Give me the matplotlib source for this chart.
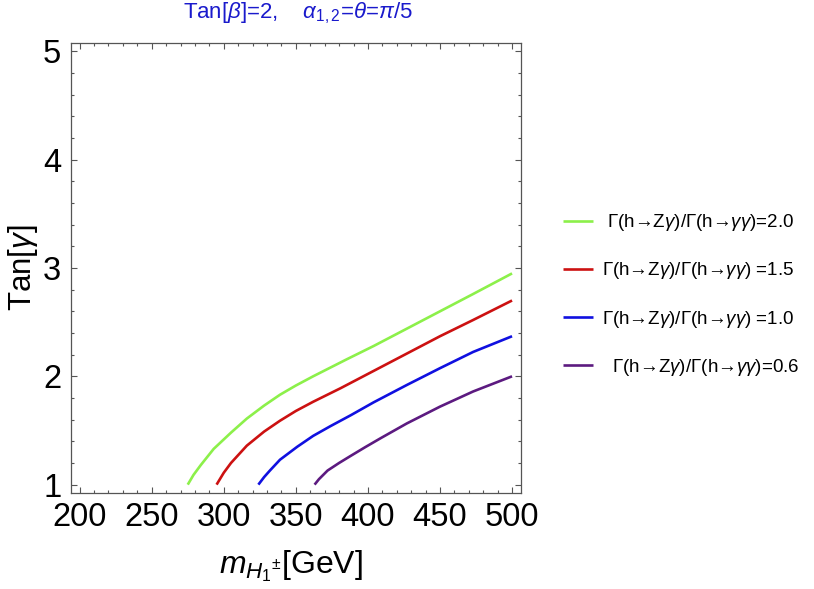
import matplotlib
matplotlib.use("Agg")
import matplotlib.pyplot as plt
from matplotlib.ticker import MultipleLocator

plt.rcParams['font.family'] = ['Liberation Sans', 'DejaVu Sans']
plt.rcParams['mathtext.fontset'] = 'custom'
plt.rcParams['mathtext.rm'] = 'Liberation Sans'
plt.rcParams['mathtext.it'] = 'Liberation Sans:italic'
plt.rcParams['mathtext.bf'] = 'Liberation Sans:bold'
plt.rcParams['mathtext.fallback'] = 'stixsans'

# ---- data ----
green_x = [275, 279, 284, 293, 305, 316, 328, 339, 350, 362, 385, 404, 427, 450, 473, 500]
green_y = [1.0, 1.09, 1.18, 1.33, 1.48, 1.61, 1.73, 1.83, 1.915, 2.00, 2.155, 2.28, 2.44, 2.60, 2.76, 2.95]
red_x = [295, 300, 305, 316, 328, 339, 350, 362, 381, 404, 427, 450, 473, 500]
red_y = [1.0, 1.11, 1.20, 1.36, 1.49, 1.59, 1.68, 1.765, 1.89, 2.05, 2.21, 2.37, 2.52, 2.70]
blue_x = [324, 328, 332, 339, 351, 362, 374, 388, 404, 427, 450, 473, 500]
blue_y = [1.0, 1.07, 1.13, 1.23, 1.35, 1.45, 1.54, 1.64, 1.76, 1.92, 2.075, 2.225, 2.37]
purple_x = [363, 366, 372, 380, 388, 398, 409, 419, 427, 450, 473, 500]
purple_y = [1.0, 1.05, 1.13, 1.20, 1.265, 1.345, 1.43, 1.505, 1.565, 1.72, 1.86, 2.00]

labels = [
    r" Γ(h→Z$\gamma$)/Γ(h→$\gamma\gamma$)=2.0",
    r"Γ(h→Z$\gamma$)/Γ(h→$\gamma\gamma$) =1.5",
    r"Γ(h→Z$\gamma$)/Γ(h→$\gamma\gamma$) =1.0",
    r"  Γ(h→Z$\gamma$)/Γ(h→$\gamma\gamma$)=0.6",
]
colors = ['#8cf04a', '#cc1111', '#1010e0', '#5c1a80']
x_ticks = [200, 250, 300, 350, 400, 450, 500]
y_ticks = [1, 2, 3, 4, 5]

title = r"Tan[$\beta$]=2,    $\alpha_{1,2}$=$\theta$=$\pi$/5"

fig = plt.figure(figsize=(8.14, 5.89), dpi=100)
ax = fig.add_axes([71/814, 1-493.3/589, 449.7/814, 450.6/589])

series = [(green_x, green_y), (red_x, red_y), (blue_x, blue_y), (purple_x, purple_y)]
handles = []
for (xs, ys), c, lab in zip(series, colors, labels):
    h, = ax.plot(xs, ys, color=c, lw=1.9, label=lab, solid_capstyle='butt',
                 solid_joinstyle='round')
    handles.append(h)

ax.set_xlim(194, 506)
ax.set_ylim(0.92, 5.08)
ax.set_xticks(x_ticks)
ax.set_yticks(y_ticks)
ax.xaxis.set_minor_locator(MultipleLocator(10))
ax.yaxis.set_minor_locator(MultipleLocator(0.2))
ax.tick_params(which='both', direction='in', top=True, right=True, color='#555555', width=0.8)
ax.tick_params(which='major', length=4.5, labelsize=23.5)
ax.tick_params(which='minor', length=2.5)
ax.tick_params(axis='x', pad=6)
ax.tick_params(axis='y', pad=7)
for s in ax.spines.values():
    s.set_color('#555555')
    s.set_linewidth(0.9)

ax.set_ylabel("Tan[$\\gamma$]", fontsize=22.5)
ax.yaxis.set_label_coords(-0.07, 0.5)
ax.set_xlabel(r"$m_{H_1{}^{\pm}}$[GeV]", fontsize=23)
ax.xaxis.set_label_coords(0.49, -0.123)

fig.text(298/814, 1-18/589, title, ha='center', va='baseline', fontsize=16, color='#1a1acc')

fig.legend(handles=handles, labels=labels, loc='center left',
           bbox_to_anchor=(563/814, 1-295/589), frameon=False,
           fontsize=13.5, handlelength=1.6, handletextpad=0.5,
           labelspacing=1.45, borderpad=0, borderaxespad=0)

fig.savefig("out.png", dpi=100)
